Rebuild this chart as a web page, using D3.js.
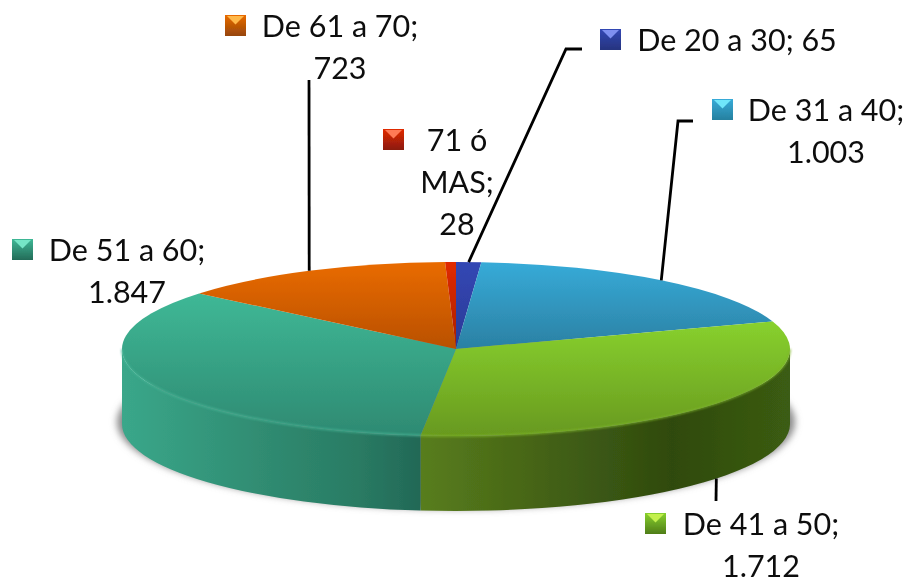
<!DOCTYPE html>
<html>
<head>
<meta charset="utf-8">
<script src="https://cdn.jsdelivr.net/npm/d3@7"></script>
<style>
  html, body { margin: 0; background: #fff; }
  svg { display: block; }
  text { font-family: Lato, sans-serif; font-size: 30.5px; fill: #111; }
</style>
</head>
<body>
<script>
const categories = ["De 20 a 30", "De 31 a 40", "De 41 a 50", "De 51 a 60", "De 61 a 70", "71 ó MAS"];
const values = [65, 1003, 1712, 1847, 723, 28];
const labelLines = [
    ["De 20 a 30; 65"],
    ["De 31 a 40;", "1.003"],
    ["De 41 a 50;", "1.712"],
    ["De 51 a 60;", "1.847"],
    ["De 61 a 70;", "723"],
    ["71 ó", "MAS;", "28"]
];

// face gradient top/bottom, one per slice
const faceTop = ["#3347b4", "#37abd8", "#88d12e", "#3fb896", "#e96b00", "#e12a05"];
const faceBottom = ["#2b3a96", "#2b80a3", "#68991f", "#2e8a72", "#b95000", "#a82004"];
const keyLight = ["#7f8ff0", "#6fe6fa", "#c3f04e", "#74e6c6", "#ffb84a", "#ff7a55"];
const keyDark = ["#26347f", "#26809f", "#4f7d18", "#236b58", "#96450a", "#8a1a08"];

// label layout, same order as categories
const labelCenter = [737, 826, 761, 127, 340, 457];
const labelBase = [51, 121, 535, 261, 37, 151];
const keyLeft = [600, 712, 645, 12, 225, 383];
const elbows = [
    [[566, 49], [582, 49]],
    [[678, 121], [693, 121]],
    [[716, 501]],
    null,
    [[309, 80]],
    null
];

const width = 908, height = 581;
const cx = 456, cy = 349, rx = 334, ry = 87, depth = 75;
const lineStep = 42;

const svg = d3.select("body").append("svg")
    .attr("width", width)
    .attr("height", height)
    .attr("viewBox", [0, 0, width, height]);
const defs = svg.append("defs");

defs.append("filter").attr("id", "shadowBlur")
    .attr("x", "-5%").attr("y", "-20%").attr("width", "110%").attr("height", "140%")
    .append("feGaussianBlur").attr("stdDeviation", 3.5);
defs.append("filter").attr("id", "soft")
    .attr("x", "-5%").attr("y", "-5%").attr("width", "110%").attr("height", "110%")
    .append("feGaussianBlur").attr("stdDeviation", 0.5);
defs.append("filter").attr("id", "rimBlur")
    .attr("x", "-5%").attr("y", "-20%").attr("width", "110%").attr("height", "140%")
    .append("feGaussianBlur").attr("stdDeviation", 0.8);

function vGrad(id, c0, c1) {
    const g = defs.append("linearGradient").attr("id", id)
        .attr("x1", 0).attr("y1", 0).attr("x2", 0).attr("y2", 1);
    g.append("stop").attr("offset", 0).attr("stop-color", c0);
    g.append("stop").attr("offset", 1).attr("stop-color", c1);
}
function hGrad(id, x1, x2, stops) {
    const g = defs.append("linearGradient").attr("id", id)
        .attr("gradientUnits", "userSpaceOnUse")
        .attr("x1", x1).attr("y1", 0).attr("x2", x2).attr("y2", 0);
    stops.forEach(s => g.append("stop").attr("offset", s[0]).attr("stop-color", s[1]));
}
categories.forEach((c, i) => {
    vGrad("face" + i, faceTop[i], faceBottom[i]);
    vGrad("key" + i, faceTop[i], keyDark[i]);
});
hGrad("wallTeal", 122, 421, [[0, "#3aa78a"], [0.5, "#2f8a70"], [0.78, "#2a7c64"], [1, "#226856"]]);
hGrad("wallGreen", 421, 790, [[0, "#587d1c"], [0.35, "#436116"], [0.68, "#2f4a0e"], [1, "#3b5c12"]]);

const pie = d3.pie().sort(null).value(d => d);
const arcs = pie(values);
const arc = d3.arc().innerRadius(0).outerRadius(rx);

// angle from d3.pie (clockwise from top) onto the tilted ellipse
const px = a => cx + rx * Math.sin(a);
const py = a => cy - ry * Math.cos(a);

// ground shadow
svg.append("ellipse")
    .attr("cx", cx).attr("cy", cy + depth - 2).attr("rx", rx + 5).attr("ry", ry)
    .attr("fill", "#8a8a8a")
    .attr("filter", "url(#shadowBlur)");

// side wall, front half only
const wallFill = { 2: "url(#wallGreen)", 3: "url(#wallTeal)" };
const front0 = Math.PI / 2, front1 = Math.PI * 1.5;
svg.append("g").attr("filter", "url(#soft)")
    .selectAll("path")
    .data(arcs.filter(d => d.endAngle > front0 && d.startAngle < front1))
    .join("path")
    .attr("fill", d => wallFill[d.index] || faceBottom[d.index])
    .attr("d", d => {
        const a0 = Math.max(d.startAngle, front0), a1 = Math.min(d.endAngle, front1);
        return `M${px(a0)},${py(a0)}A${rx},${ry} 0 0 1 ${px(a1)},${py(a1)}`
            + `L${px(a1)},${py(a1) + depth}A${rx},${ry} 0 0 0 ${px(a0)},${py(a0) + depth}Z`;
    });

// top face
svg.append("g")
    .attr("transform", `translate(${cx},${cy}) scale(1,${ry / rx})`)
    .attr("filter", "url(#soft)")
    .selectAll("path")
    .data(arcs)
    .join("path")
    .attr("fill", d => `url(#face${d.index})`)
    .attr("d", arc);

// bevel highlight along the front rim
const rimColor = { 2: "#7db52a", 3: "#46b596" };
svg.append("g").attr("fill", "none").attr("stroke-width", 1.5).attr("filter", "url(#rimBlur)")
    .selectAll("path")
    .data(arcs.filter(d => rimColor[d.index]))
    .join("path")
    .attr("stroke", d => rimColor[d.index])
    .attr("d", d => {
        const a0 = Math.max(d.startAngle, front0), a1 = Math.min(d.endAngle, front1);
        return `M${px(a0)},${py(a0)}A${rx},${ry} 0 0 1 ${px(a1)},${py(a1)}`;
    });

// leader lines start at the middle of the slice
const line = d3.line();
svg.append("g").attr("fill", "none").attr("stroke", "#000").attr("stroke-width", 2.8)
    .attr("filter", "url(#soft)")
    .selectAll("path")
    .data(arcs.filter(d => elbows[d.index]))
    .join("path")
    .attr("d", d => {
        const m = (d.startAngle + d.endAngle) / 2;
        const drop = Math.cos(m) < 0 ? depth : 0;
        return line([[px(m), py(m) + drop], ...elbows[d.index]]);
    });

// labels
const labels = svg.append("g").attr("filter", "url(#soft)")
    .selectAll("g")
    .data(categories)
    .join("g");

labels.selectAll("text")
    .data((d, i) => labelLines[i].map((t, j) => ({ t, j, i })))
    .join("text")
    .attr("text-anchor", "middle")
    .attr("x", d => labelCenter[d.i])
    .attr("y", d => labelBase[d.i] + d.j * lineStep)
    .text(d => d.t);

const keySize = 21;
labels.append("rect")
    .attr("x", (d, i) => keyLeft[i])
    .attr("y", (d, i) => labelBase[i] - 22)
    .attr("width", keySize)
    .attr("height", keySize)
    .attr("fill", (d, i) => `url(#key${i})`);
labels.append("path")
    .attr("fill", (d, i) => keyLight[i])
    .attr("d", (d, i) => {
        const x = keyLeft[i], y = labelBase[i] - 22;
        return d3.line()([[x + 2, y + 1], [x + keySize - 2, y + 1], [x + keySize / 2, y + keySize * 0.45]]) + "Z";
    });
</script>
</body>
</html>
